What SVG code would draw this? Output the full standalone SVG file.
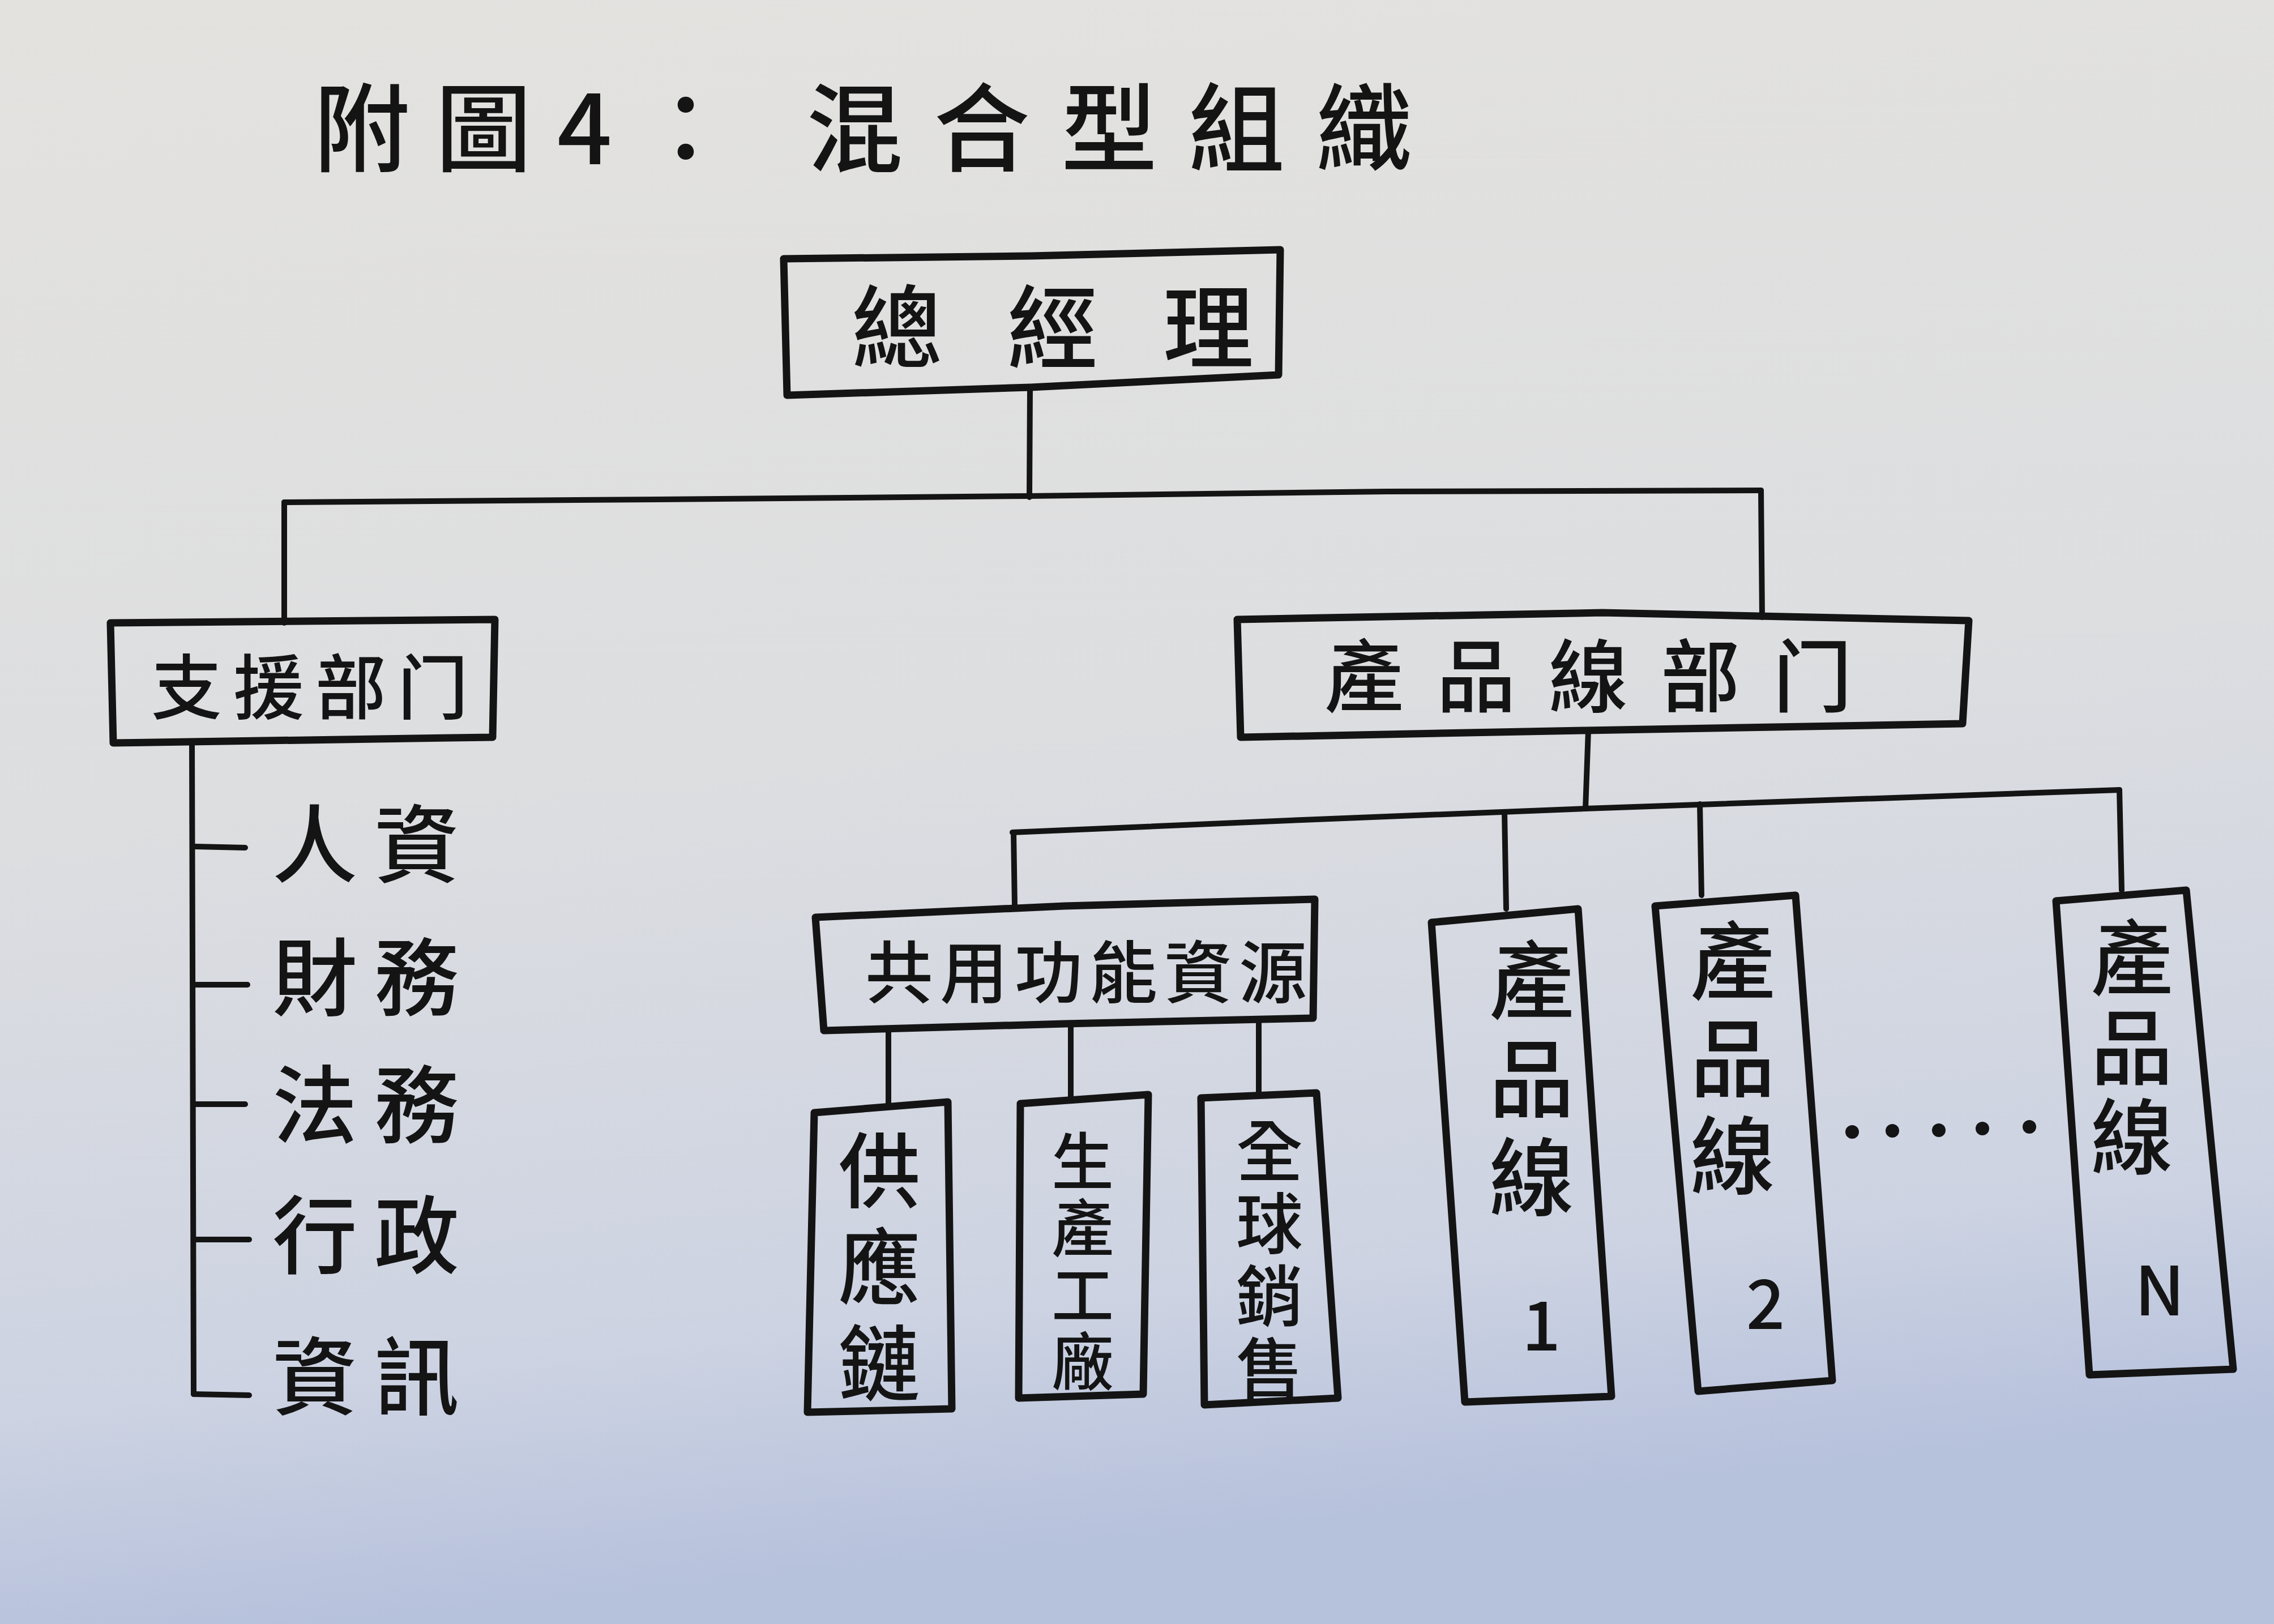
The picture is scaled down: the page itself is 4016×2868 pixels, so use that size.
<svg xmlns="http://www.w3.org/2000/svg" width="4016" height="2868" viewBox="0 0 4016 2868">
<defs>
<linearGradient id="paper" x1="0" y1="0" x2="0.15" y2="1">
<stop offset="0" stop-color="#e3e2df"/>
<stop offset="0.5" stop-color="#dddee0"/>
<stop offset="0.85" stop-color="#cdd3e2"/>
<stop offset="1" stop-color="#b6c1dc"/>
</linearGradient>
<style>
.box{fill:none;stroke:#141414;stroke-width:13;stroke-linejoin:round;stroke-linecap:round}
.ln{fill:none;stroke:#141414;stroke-width:10;stroke-linecap:round;stroke-linejoin:round}
.t{font-family:"Noto Sans CJK TC","Noto Sans CJK SC","Noto Sans",sans-serif;fill:#141414;font-weight:500}
.v{writing-mode:vertical-rl}
.dot{fill:#141414}
</style>
</defs>
<rect width="4016" height="2868" fill="url(#paper)"/>

<g id="title">
<text class="t" x="554" y="290" font-size="170" letter-spacing="45">附圖4：<tspan x="1424" letter-spacing="55">混合型組織</tspan></text>
</g>

<g id="connectors">
<path class="ln" d="M1819,688 L1818,878"/>
<path class="ln" d="M502,887 L1160,882 L1818,876 L2450,868 L3110,866"/>
<path class="ln" d="M502,887 L502,1100"/>
<path class="ln" d="M3110,866 L3112,1090"/>
<path class="ln" d="M339,1310 L342,2462"/>
<path class="ln" d="M345,1495 L433,1497"/>
<path class="ln" d="M345,1739 L437,1739"/>
<path class="ln" d="M345,1950 L433,1950"/>
<path class="ln" d="M345,2189 L440,2189"/>
<path class="ln" d="M342,2462 L440,2464"/>
<path class="ln" d="M2805,1290 L2800,1428"/>
<path class="ln" d="M1788,1470 L2300,1448 L2800,1428 L3743,1395"/>
<path class="ln" d="M1790,1470 L1792,1600"/>
<path class="ln" d="M2657,1434 L2660,1605"/>
<path class="ln" d="M3002,1420 L3005,1581"/>
<path class="ln" d="M3743,1395 L3747,1572"/>
<path class="ln" d="M1569,1820 L1569,1952"/>
<path class="ln" d="M1891,1808 L1891,1939"/>
<path class="ln" d="M2223,1800 L2223,1932"/>
</g>

<g id="node-gm">
<path class="box" d="M1384,457 L1820,452 L2261,441 L2258,662 L1820,684 L1390,698 Z"/>
<text class="t" x="1504" y="638" font-size="160" letter-spacing="115">總經理</text>
</g>

<g id="node-support">
<path class="box" d="M195,1100 L874,1094 L870,1302 L200,1312 Z"/>
<text class="t" x="267" y="1260" font-size="125" letter-spacing="20">支援部门</text>
</g>

<g id="node-hr"><text class="t" x="481" y="1547" font-size="150" letter-spacing="30">人資</text></g>
<g id="node-finance"><text class="t" x="481" y="1782" font-size="150" letter-spacing="30">財務</text></g>
<g id="node-legal"><text class="t" x="481" y="2007" font-size="150" letter-spacing="30">法務</text></g>
<g id="node-admin"><text class="t" x="481" y="2237" font-size="150" letter-spacing="30">行政</text></g>
<g id="node-it"><text class="t" x="481" y="2487" font-size="150" letter-spacing="30">資訊</text></g>

<g id="node-productdept">
<path class="box" d="M2185,1094 L2830,1082 L3477,1096 L3466,1278 L2800,1290 L2191,1302 Z"/>
<text class="t" x="2339" y="1246" font-size="140" letter-spacing="58">產品線部门</text>
</g>

<g id="node-shared">
<path class="box" d="M1440,1620 L1880,1600 L2322,1588 L2319,1798 L1880,1808 L1455,1820 Z"/>
<text class="t" x="1528" y="1762" font-size="120" letter-spacing="12">共用功能資源</text>
</g>

<g id="node-supply">
<path class="box" d="M1438,1965 L1674,1946 L1681,2488 L1426,2494 Z"/>
<text class="t v" x="1553" y="1994" font-size="145" letter-spacing="25">供應鏈</text>
</g>

<g id="node-factory">
<path class="box" d="M1802,1949 L2028,1933 L2019,2462 L1799,2469 Z"/>
<text class="t v" x="1912" y="1995" font-size="110" letter-spacing="8">生產工廠</text>
</g>

<g id="node-sales">
<path class="box" d="M2121,1939 L2325,1930 L2363,2469 L2127,2481 Z"/>
<text class="t v" x="2242" y="1973" font-size="118" letter-spacing="10">全球銷售</text>
</g>

<g id="node-pl1">
<path class="box" d="M2528,1629 L2787,1605 L2846,2466 L2587,2476 Z"/>
<text class="t v" x="2705" y="1655" font-size="150" letter-spacing="24">產品線</text>
<text class="t" font-size="120" text-anchor="middle" x="2722" y="2385">1</text>
</g>

<g id="node-pl2">
<path class="box" d="M2923,1600 L3171,1581 L3236,2438 L2999,2457 Z"/>
<text class="t v" x="3060" y="1621" font-size="150" letter-spacing="22">產品線</text>
<text class="t" font-size="120" text-anchor="middle" x="3118" y="2347">2</text>
</g>

<g id="dots">
<circle class="dot" cx="3271" cy="1999" r="12"/>
<circle class="dot" cx="3342" cy="1997" r="12"/>
<circle class="dot" cx="3424" cy="1996" r="12"/>
<circle class="dot" cx="3501" cy="1993" r="12"/>
<circle class="dot" cx="3584" cy="1990" r="12"/>
</g>

<g id="node-pln">
<path class="box" d="M3631,1591 L3861,1572 L3944,2418 L3690,2428 Z"/>
<text class="t v" x="3765" y="1618" font-size="145" letter-spacing="13">產品線</text>
<text class="t" font-size="120" text-anchor="middle" x="3814" y="2323">N</text>
</g>
</svg>
